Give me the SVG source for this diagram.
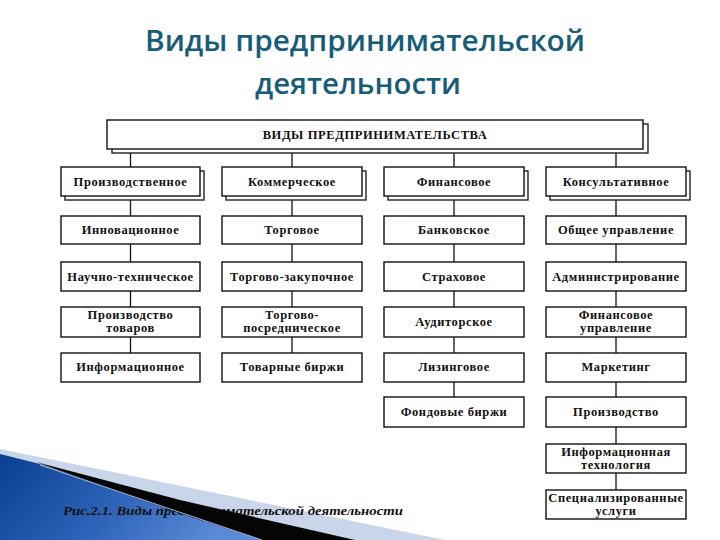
<svg xmlns="http://www.w3.org/2000/svg" width="720" height="540" viewBox="0 0 720 540">
<defs>
<linearGradient id="blueGrad" x1="0" y1="0" x2="1" y2="0.3">
<stop offset="0" stop-color="#0a3f8e"/>
<stop offset="0.55" stop-color="#2d63b8"/>
<stop offset="1" stop-color="#5a8ad6"/>
</linearGradient>
<style>
.box{fill:#fff;stroke:#111;stroke-width:1.4}
.shadow{fill:#fff;stroke:#222;stroke-width:1.4}
.lbl{font-family:"Liberation Serif","Times New Roman",serif;font-weight:bold;font-size:12.5px;letter-spacing:0.6px;fill:#111;text-anchor:middle}
.con line{stroke:#111;stroke-width:1.3}
.title{font-family:"Open Sans","Noto Sans",sans-serif;font-weight:600;font-size:29px;fill:#175d78;text-anchor:middle}
</style>
</defs>
<rect width="720" height="540" fill="#fff"/>

<!-- title -->
<text class="title" x="365" y="51" textLength="440" lengthAdjust="spacingAndGlyphs">Виды предпринимательской</text>
<text class="title" x="358" y="94" textLength="206" lengthAdjust="spacingAndGlyphs">деятельности</text>

<!-- bottom-left decoration -->
<polygon points="0,449 445,540 0,540" fill="#c9d5e8"/>
<polygon points="0,454 40,464 265,540 0,540" fill="url(#blueGrad)"/>
<text x="63" y="515" font-family="'Liberation Serif','Times New Roman',serif" font-style="italic" font-weight="bold" font-size="11.5" fill="#111" textLength="340" lengthAdjust="spacingAndGlyphs">Рис.2.1. Виды предпринимательской деятельности</text>
<polygon points="36,462 180,500 355,540 262,540 176,512" fill="#050505"/>
<line x1="40" y1="465" x2="262" y2="540" stroke="#9fb6dc" stroke-width="1"/>

<!-- connectors -->
<g class="con" id="connectors">
<line x1="130.5" y1="149" x2="130.5" y2="167"/>
<line x1="292" y1="149" x2="292" y2="167"/>
<line x1="454" y1="149" x2="454" y2="167"/>
<line x1="616" y1="149" x2="616" y2="167"/>
<line x1="130.5" y1="196" x2="130.5" y2="353"/>
<line x1="292" y1="196" x2="292" y2="353"/>
<line x1="454" y1="196" x2="454" y2="397"/>
<line x1="616" y1="196" x2="616" y2="490"/>
</g>

<!-- top node -->
<g id="root">
<rect class="shadow" x="112" y="124" width="536" height="29"/>
<rect class="box" x="107" y="120" width="536" height="29"/>
<text class="lbl" x="375" y="138.5" font-size="12" letter-spacing="0.5">ВИДЫ ПРЕДПРИНИМАТЕЛЬСТВА</text>
</g>

<!-- row 1 -->
<g id="n-proizv">
<rect class="shadow" x="65" y="171" width="139" height="29"/>
<rect class="box" x="61" y="167" width="139" height="29"/>
<text class="lbl" x="130.5" y="185.5">Производственное</text>
</g>
<g id="n-komm">
<rect class="shadow" x="226" y="171" width="140" height="29"/>
<rect class="box" x="222" y="167" width="140" height="29"/>
<text class="lbl" x="292" y="185.5">Коммерческое</text>
</g>
<g id="n-fin">
<rect class="shadow" x="388" y="171" width="140" height="29"/>
<rect class="box" x="384" y="167" width="140" height="29"/>
<text class="lbl" x="454" y="185.5">Финансовое</text>
</g>
<g id="n-kons">
<rect class="shadow" x="550" y="171" width="140" height="29"/>
<rect class="box" x="546" y="167" width="140" height="29"/>
<text class="lbl" x="616" y="185.5">Консультативное</text>
</g>

<!-- row 2 -->
<g id="n-innov"><rect class="box" x="61" y="216" width="139" height="28"/><text class="lbl" x="130.5" y="234">Инновационное</text></g>
<g id="n-torg"><rect class="box" x="222" y="216" width="140" height="28"/><text class="lbl" x="292" y="234">Торговое</text></g>
<g id="n-bank"><rect class="box" x="384" y="216" width="140" height="28"/><text class="lbl" x="454" y="234">Банковское</text></g>
<g id="n-obsh"><rect class="box" x="546" y="216" width="140" height="28"/><text class="lbl" x="616" y="234">Общее управление</text></g>

<!-- row 3 -->
<g id="n-nauch"><rect class="box" x="61" y="262" width="139" height="29"/><text class="lbl" x="130.5" y="280.5">Научно-техническое</text></g>
<g id="n-torgzak"><rect class="box" x="222" y="262" width="140" height="29"/><text class="lbl" x="292" y="280.5">Торгово-закупочное</text></g>
<g id="n-strah"><rect class="box" x="384" y="262" width="140" height="29"/><text class="lbl" x="454" y="280.5">Страховое</text></g>
<g id="n-admin"><rect class="box" x="546" y="262" width="140" height="29"/><text class="lbl" x="616" y="280.5">Администрирование</text></g>

<!-- row 4 -->
<g id="n-prtov"><rect class="box" x="61" y="307" width="139" height="30"/><text class="lbl" x="130.5" y="319">Производство</text><text class="lbl" x="130.5" y="332">товаров</text></g>
<g id="n-torgpos"><rect class="box" x="222" y="307" width="140" height="30"/><text class="lbl" x="292" y="319">Торгово-</text><text class="lbl" x="292" y="332">посредническое</text></g>
<g id="n-audit"><rect class="box" x="384" y="307" width="140" height="30"/><text class="lbl" x="454" y="326">Аудиторское</text></g>
<g id="n-finupr"><rect class="box" x="546" y="307" width="140" height="30"/><text class="lbl" x="616" y="319">Финансовое</text><text class="lbl" x="616" y="332">управление</text></g>

<!-- row 5 -->
<g id="n-inform"><rect class="box" x="61" y="353" width="139" height="29"/><text class="lbl" x="130.5" y="371">Информационное</text></g>
<g id="n-tovbir"><rect class="box" x="222" y="353" width="140" height="29"/><text class="lbl" x="292" y="371">Товарные биржи</text></g>
<g id="n-lizing"><rect class="box" x="384" y="353" width="140" height="29"/><text class="lbl" x="454" y="371">Лизинговое</text></g>
<g id="n-market"><rect class="box" x="546" y="353" width="140" height="29"/><text class="lbl" x="616" y="371">Маркетинг</text></g>

<!-- row 6 -->
<g id="n-fondbir"><rect class="box" x="384" y="397" width="140" height="30"/><text class="lbl" x="454" y="416">Фондовые биржи</text></g>
<g id="n-proizvodstvo"><rect class="box" x="546" y="397" width="140" height="30"/><text class="lbl" x="616" y="416">Производство</text></g>

<!-- row 7 -->
<g id="n-inftech"><rect class="box" x="546" y="444" width="140" height="29"/><text class="lbl" x="616" y="456">Информационная</text><text class="lbl" x="616" y="469">технология</text></g>

<!-- row 8 -->
<g id="n-spec"><rect class="box" x="546" y="490" width="140" height="29"/><text class="lbl" x="616" y="502">Специализированные</text><text class="lbl" x="616" y="515">услуги</text></g>
</svg>
